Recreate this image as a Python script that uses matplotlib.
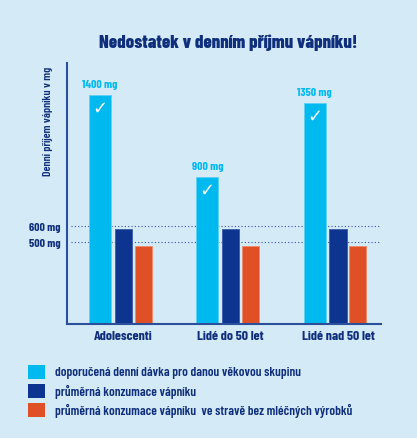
import numpy as np
import matplotlib.pyplot as plt
from matplotlib.patches import Rectangle

groups = ["Adolescenti", "Lidé do 50 let", "Lidé nad 50 let"]
recommended = [1400, 900, 1350]
average = [580, 580, 580]
no_dairy = [475, 475, 475]
ref_levels = [600, 500]
legend_labels = [
    "doporučená denní dávka pro danou věkovou skupinu",
    "průměrná konzumace vápníku",
    "průměrná konzumace vápníku  ve stravě bez mléčných výrobků",
]

bg = "#d4eaf7"
light_blue = "#00b9ee"
dark_blue = "#0d358f"
orange = "#e05026"
navy = "#0f2f7c"

plt.rcParams['font.family'] = ['Barlow Condensed', 'DejaVu Sans']

fig = plt.figure(figsize=(4.17, 4.39), dpi=100, facecolor=bg)
ax = fig.add_axes([67 / 417, 1 - 325 / 439, 314 / 417, 261 / 439])
ax.set_facecolor(bg)

x = np.arange(len(groups))
ax.bar(x - 0.219, recommended, width=0.205, color=light_blue, edgecolor="#5fd0f2", linewidth=0.6)
ax.bar(x, average, width=0.159, color=dark_blue, edgecolor="#3a5aa8", linewidth=0.6)
ax.bar(x + 0.186, no_dairy, width=0.159, color=orange, edgecolor="#ef8a68", linewidth=0.6)

ax.set_xlim(-0.527, 2.401)
ax.set_ylim(0, 1593)

for lvl in ref_levels:
    ax.axhline(lvl, xmin=0.012, xmax=1, color="#3a55a0", linestyle=(0, (1, 2)), linewidth=0.8, zorder=0)

ax.set_yticks(ref_levels)
ax.set_yticklabels([f"{v} mg" for v in ref_levels], color=navy, fontweight="bold", fontsize=8.5)
ax.tick_params(axis="y", length=0, pad=5)
ax.set_xticks(x)
ax.set_xticklabels(groups, color=navy, fontweight="bold", fontsize=10)
ax.tick_params(axis="x", length=0, pad=4)

for s in ["top", "right"]:
    ax.spines[s].set_visible(False)
for s in ["left", "bottom"]:
    ax.spines[s].set_color("#2b4f9a")
    ax.spines[s].set_linewidth(1.5)

for xi, v in zip(x, recommended):
    ax.annotate(f"{v} mg", (xi - 0.219, v), xytext=(0, 4), textcoords="offset points",
                ha="center", va="bottom", color=light_blue, fontweight="bold", fontsize=8.5)
    ax.annotate("✓", (xi - 0.219, v), xytext=(0, -3), textcoords="offset points",
                ha="center", va="top", color="white", fontsize=13,
                family="DejaVu Sans")

ax.set_ylabel("Denní příjem vápníku v mg", color=navy, fontweight="semibold", fontsize=8.5)
ax.yaxis.set_label_coords(-0.043, 0.78)

fig.text(228 / 417, 1 - 43 / 439, "Nedostatek v denním příjmu vápníku!", ha="center", va="center",
         color=navy, fontweight="heavy", fontsize=13.5)

# legend
for i, (lab, col) in enumerate(zip(legend_labels, [light_blue, dark_blue, orange])):
    yc = 373 + i * 19
    fig.patches.append(Rectangle((28 / 417, 1 - (yc + 7) / 439), 17 / 417, 14 / 439,
                                 transform=fig.transFigure, facecolor=col, edgecolor="none"))
    fig.text(55 / 417, 1 - yc / 439, lab, ha="left", va="center", color=navy,
             fontweight="semibold", fontsize=9.5)

fig.savefig("out.png", dpi=100, facecolor=bg)
